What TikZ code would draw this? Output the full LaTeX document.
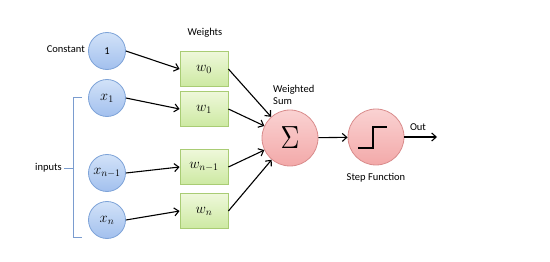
\documentclass[tikz,border=0pt]{standalone}
\usepackage{fontspec}
\setmainfont{Carlito}
\usepackage{graphicx}
\usetikzlibrary{arrows.meta,calc}
\definecolor{inpborder}{HTML}{7EA3D8}
\definecolor{inptop}{HTML}{D2E2F8}
\definecolor{inpbot}{HTML}{A2C0EE}
\definecolor{wborder}{HTML}{A9CC74}
\definecolor{wtop}{HTML}{EEF8DA}
\definecolor{wbot}{HTML}{CDE9A2}
\definecolor{rborder}{HTML}{D98C8C}
\definecolor{rtop}{HTML}{FAD2D2}
\definecolor{rbot}{HTML}{F3A9A9}
\definecolor{bracecol}{HTML}{7A9CCF}
\begin{document}
\begin{tikzpicture}[x=1pt,y=-1pt,
  inp/.style={circle,draw=inpborder,line width=0.8pt,top color=inptop,bottom color=inpbot,minimum size=37pt,inner sep=0pt},
  wbox/.style={rectangle,draw=wborder,line width=0.8pt,top color=wtop,bottom color=wbot,minimum width=48pt,minimum height=35pt,inner sep=0pt},
  redc/.style={circle,draw=rborder,line width=0.8pt,top color=rtop,bottom color=rbot,minimum size=56pt,inner sep=0pt},
  conn/.style={-{Straight Barb[length=4.5pt,width=8pt]},line width=1.1pt},
  lbl/.style={font=\fontsize{10.5}{12.5}\selectfont,inner sep=0pt},
  xl/.style={font=\fontsize{14.4}{14.4}\selectfont},
  wl/.style={font=\fontsize{14.4}{14.4}\selectfont},
  bracel/.style={draw=bracecol,line width=0.7pt}
]
\useasboundingbox (0,0) rectangle (550,262);
% input circles
\node[inp,lbl] (c0) at (107,51) {1};
\node[inp,xl] (x1) at (107,98) {$x_1$};
\node[inp,xl] (xm) at (107,173) {$x_{n-1}$};
\node[inp,xl] (xn) at (107,220) {$x_n$};
% weight boxes
\node[wbox,wl] (w0) at (204,69) {$w_0$};
\node[wbox,wl] (w1) at (204,109) {$w_1$};
\node[wbox,wl] (wm) at (204,167) {$w_{n-1}$};
\node[wbox,wl] (wn) at (204,211) {$w_n$};
% sum and step
\node[redc] (sum) at (290,138) {\scalebox{2.6}[3.2]{$\Sigma$}};
\node[redc] (step) at (376,137) {};
\draw[line width=2pt] ($(step.center)+(-18,11)$) -- ($(step.center)+(-3,11)$) -- ($(step.center)+(-3,-10)$) -- ($(step.center)+(11,-10)$);
% labels
\node[lbl,anchor=east] (constl) at (85,49) {Constant};
\node[lbl] (weightsl) at (205,33) {Weights};
\node[lbl,anchor=west,align=left] (wsuml) at (273,95) {Weighted\\Sum};
\node[lbl] (stepl) at (376,178) {Step Function};
\node[lbl] (outl) at (418,127) {Out};
\node[lbl,anchor=east] (inputsl) at (62,168) {inputs};
% brace
\coordinate (bt) at (82,97);
\coordinate (bb) at (82,237);
\draw[bracel] (bt) -- (73,97) -- (73,237) -- (bb);
\draw[bracel] (inputsl.east) ++(2,0) -- (73,168);
% connectors
\draw[conn] (c0.east) -- (w0.west);
\draw[conn] (x1.east) -- (w1.west);
\draw[conn] (xm.east) -- (wm.west);
\draw[conn] (xn.east) -- (wn.west);
\draw[conn] (w0.east) -- (sum);
\draw[conn] (w1.east) -- (sum);
\draw[conn] (wm.east) -- (sum);
\draw[conn] (wn.east) -- (sum);
\draw[conn] (sum) -- (step);
\coordinate (outend) at (437,137);
\draw[conn] (step) -- (outend);
\end{tikzpicture}
\end{document}
